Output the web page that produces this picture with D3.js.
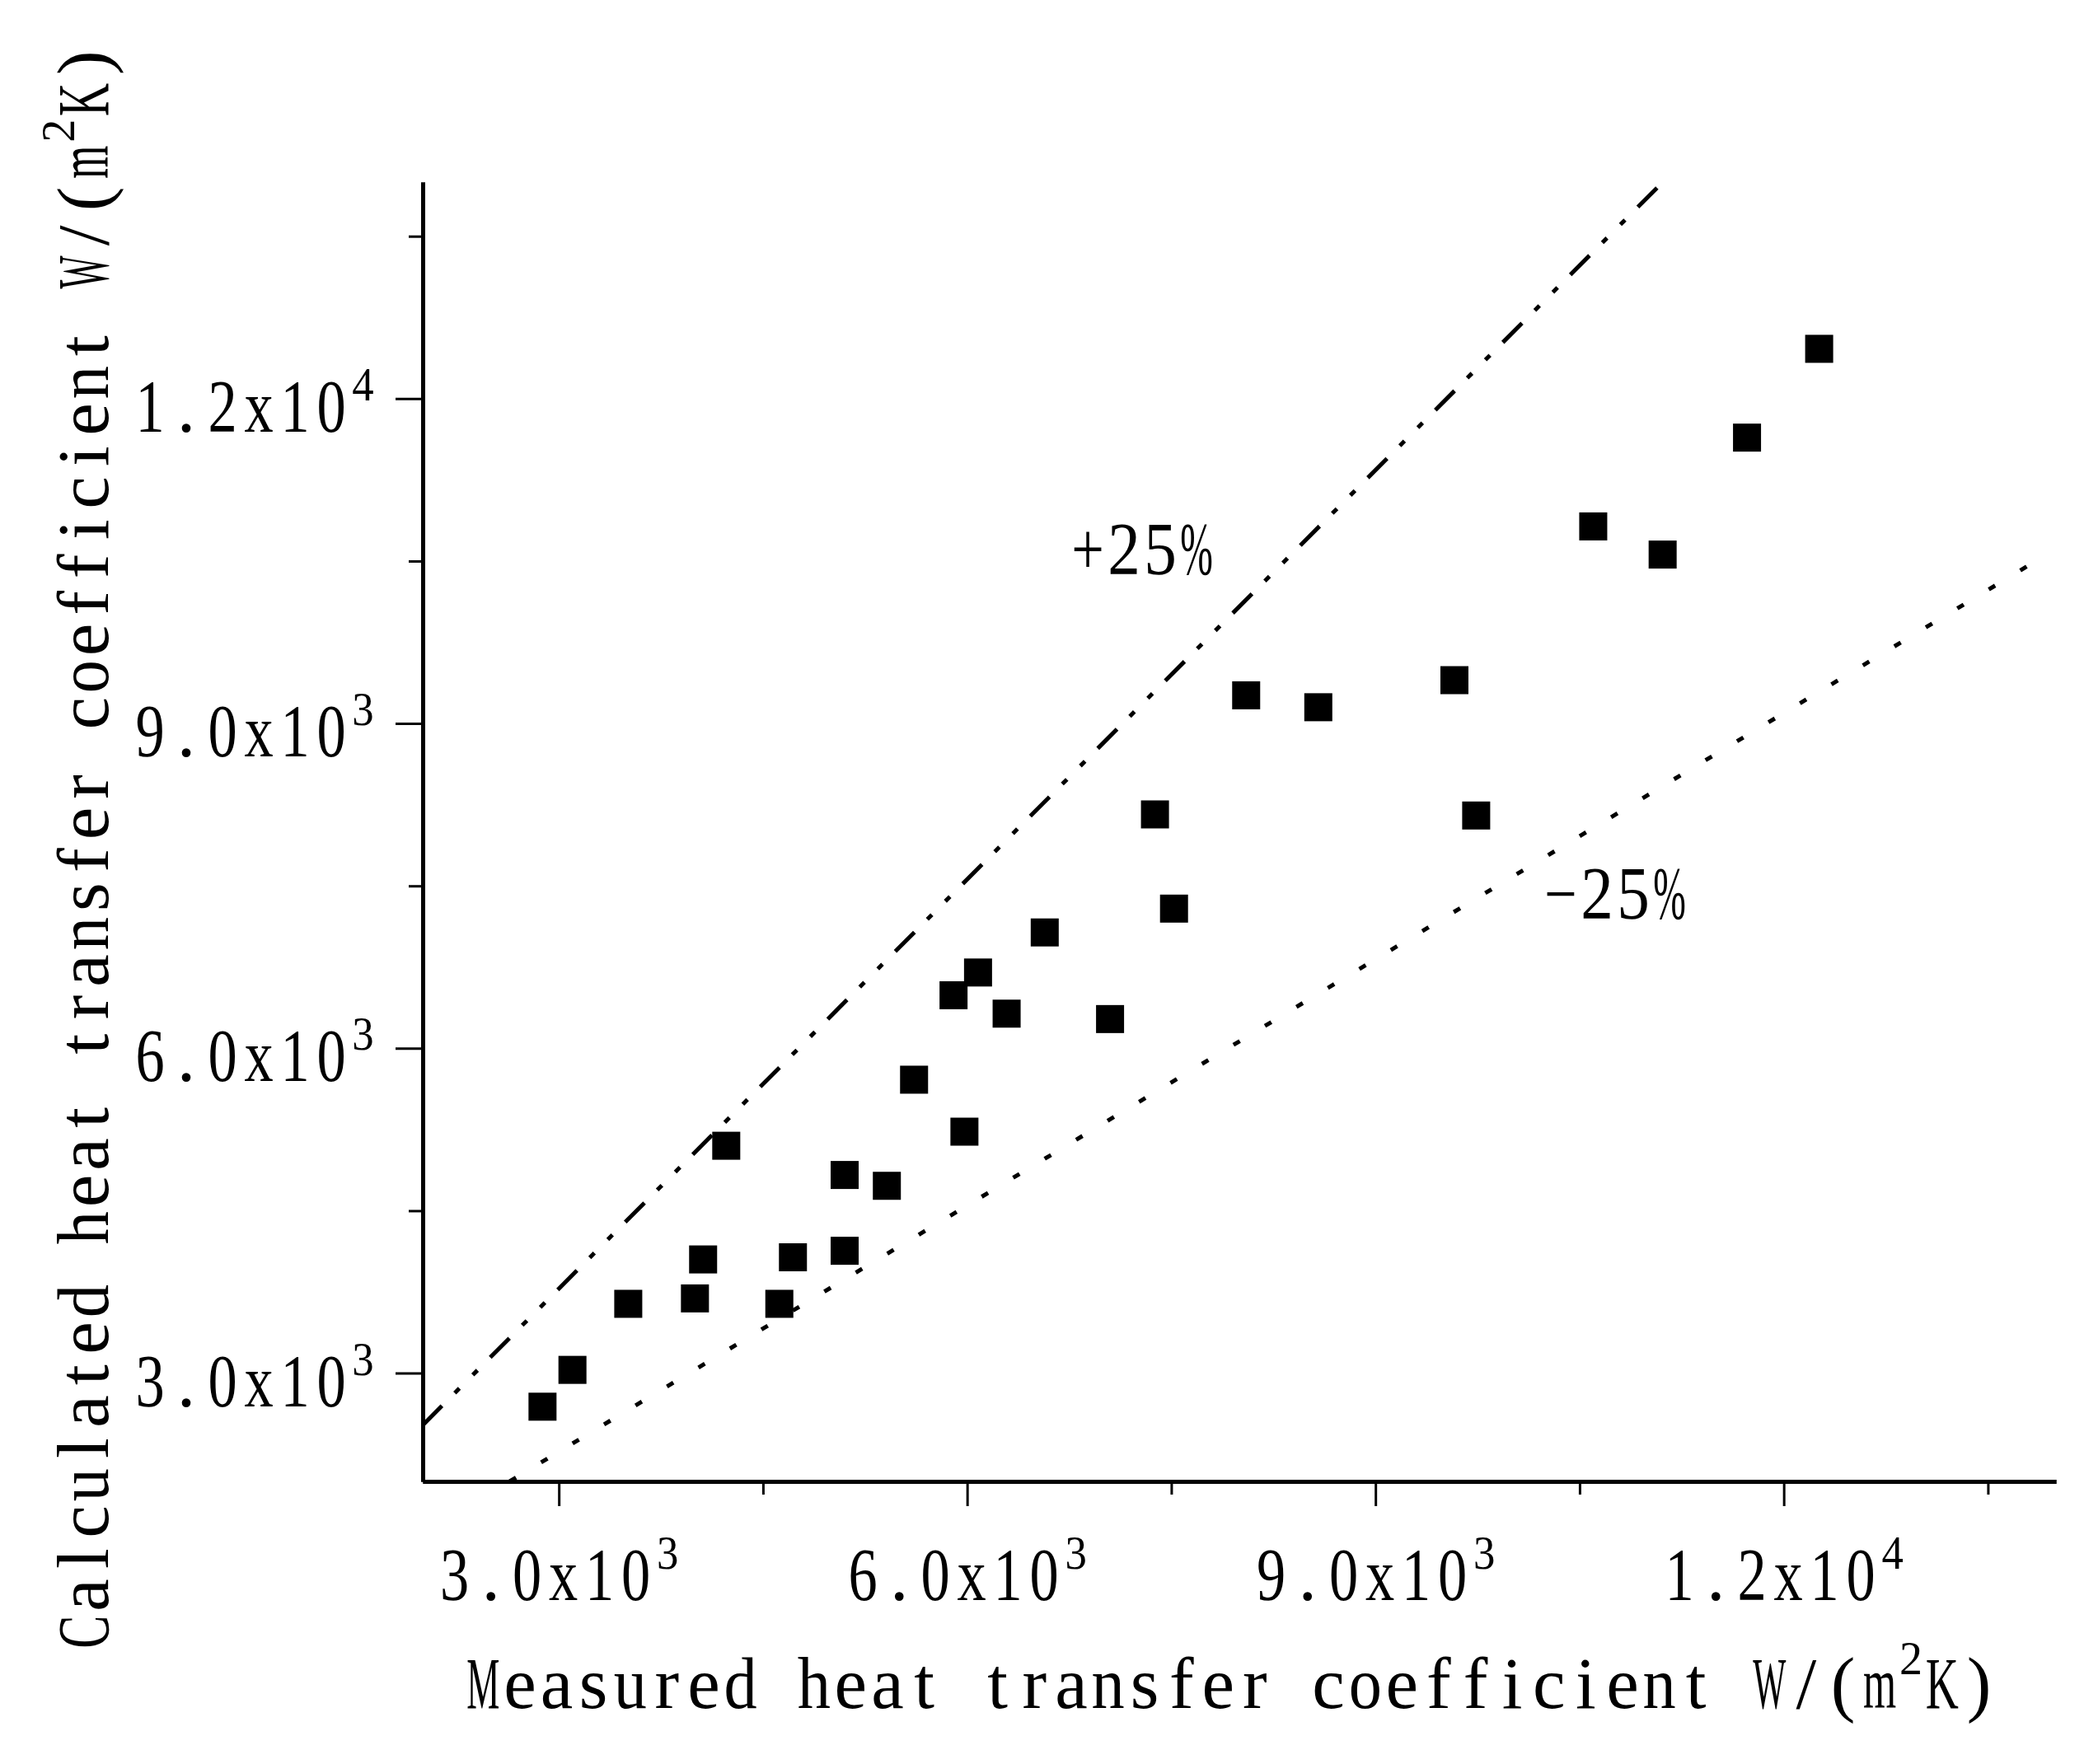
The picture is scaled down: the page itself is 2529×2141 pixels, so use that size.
<!DOCTYPE html>
<html>
<head>
<meta charset="utf-8">
<script src="https://cdn.jsdelivr.net/npm/d3@7"></script>
<style>
  html, body { margin: 0; padding: 0; background: #fff; }
  svg text { white-space: pre; }
</style>
</head>
<body>
<div id="chart"></div>
<script>
// --- Data ---
const measured = [2880, 3100, 3510, 4000, 4060, 4230, 4620, 4720, 5100, 5100,
                  5410, 5610, 5900, 5980, 6080, 6290, 6570, 7050, 7380, 7520,
                  8050, 8580, 9580, 9740, 10600, 11110, 11730, 12260];
const calculated = [2690, 3030, 3640, 3690, 4050, 5100, 3640, 4070, 4130, 4830,
                    4730, 5710, 6490, 5230, 6700, 6320, 7070, 6270, 8160, 7290,
                    9260, 9150, 9400, 8150, 10820, 10560, 11640, 12460];
const majorTicks = [3000, 6000, 9000, 12000];
const minorTicks = [4500, 7500, 10500, 13500];
const tickLabels = ["3.0x10^3", "6.0x10^3", "9.0x10^3", "1.2x10^4"];
// slopes of the two bounding lines as drawn, and where they stop on the right
const bandFactors = [1.26, 0.758];
const bandXEnd = [14000, 13800];
const bandLabels = ["+25%", "\u221225%"];

const W = 2529, H = 2141;
const FONT = "Liberation Serif";

const svg = d3.select("#chart").append("svg")
  .attr("width", W).attr("height", H);
svg.append("rect").attr("width", W).attr("height", H).attr("fill", "#fff");

const x = d3.scaleLinear().domain([2000, 14000]).range([513, 2495]);
const y = d3.scaleLinear().domain([2000, 14000]).range([1798, 221]);

// monospaced text: each glyph sits in its own cell (wide glyphs squeezed to fit),
// "^" makes the next char a superscript
function monoText(parent, o) {
  const toks = [];
  for (let i = 0; i < o.str.length; i++) {
    if (o.str[i] === "^") { toks.push({ ch: o.str[i + 1], sup: true }); i++; }
    else toks.push({ ch: o.str[i], sup: false });
  }
  const cw = t => t.sup ? o.pitch * o.supCell : o.pitch;
  const total = d3.sum(toks, cw);
  let cx = o.anchor === "middle" ? -total / 2 : o.anchor === "end" ? -total : 0;
  const t = parent.append("text")
    .attr("transform", `translate(${o.x},${o.y})${o.rotate ? ` rotate(${o.rotate})` : ""}`)
    .attr("font-family", FONT)
    .attr("font-size", o.size)
    .attr("fill", "#000")
    .attr("text-anchor", "start");
  toks.forEach(tok => {
    const w = cw(tok);
    const s = t.append("tspan")
      .attr("y", tok.sup ? -o.supRise : 0)
      .text(tok.ch);
    if (tok.sup) s.attr("font-size", o.supSize);
    const maxW = w * o.fill;
    let gw = s.node().getComputedTextLength();
    if (tok.ch !== " " && gw > maxW) {
      s.attr("textLength", maxW).attr("lengthAdjust", "spacingAndGlyphs");
      gw = maxW;
    }
    s.attr("x", cx + (w - gw) / 2);
    cx += w;
  });
  return t;
}

// --- Reference lines (+25% / -25%) ---
const [xMin] = x.domain();
const [yMin, yMax] = y.domain();
function bandSegment(f, xe) {
  const x0 = Math.max(xMin, yMin / f), x1 = Math.min(xe, yMax / f);
  return [[x0, f * x0], [x1, f * x1]];
}
const line = d3.line().x(d => x(d[0])).y(d => y(d[1]));
const dashes = ["33 22 8 23 8 22", "9 35.6"];
bandFactors.forEach((f, i) => {
  svg.append("path")
    .attr("d", line(bandSegment(f, bandXEnd[i])))
    .attr("fill", "none")
    .attr("stroke", "#000")
    .attr("stroke-width", 5)
    .attr("stroke-dasharray", dashes[i]);
});

// --- Points ---
const sq = 34;
svg.append("g").selectAll("rect")
  .data(d3.zip(measured, calculated))
  .join("rect")
  .attr("x", d => x(d[0]) - sq / 2)
  .attr("y", d => y(d[1]) - sq / 2)
  .attr("width", sq)
  .attr("height", sq)
  .attr("fill", "#000");

// --- Axes ---
const styleAxis = g => {
  g.select(".domain").attr("stroke", "#000").attr("stroke-width", 5);
  g.selectAll(".tick line").attr("stroke", "#000").attr("stroke-width", 3);
  g.selectAll(".tick text").remove();
};

svg.append("g")
  .attr("transform", `translate(0,${y.range()[0]})`)
  .call(d3.axisBottom(x).tickValues(minorTicks).tickSize(16).tickSizeOuter(0).tickFormat(""))
  .call(styleAxis);
svg.append("g")
  .attr("transform", `translate(0,${y.range()[0]})`)
  .call(d3.axisBottom(x).tickValues(majorTicks).tickSize(30).tickSizeOuter(0).tickFormat(""))
  .call(styleAxis);

svg.append("g")
  .attr("transform", `translate(${x.range()[0]},0)`)
  .call(d3.axisLeft(y).tickValues(minorTicks).tickSize(17).tickSizeOuter(0).tickFormat(""))
  .call(styleAxis);
svg.append("g")
  .attr("transform", `translate(${x.range()[0]},0)`)
  .call(d3.axisLeft(y).tickValues(majorTicks).tickSize(33).tickSizeOuter(0).tickFormat(""))
  .call(styleAxis);

// tick labels
const tickStyle = { pitch: 44, size: 90, supSize: 56, supRise: 38, supCell: 0.75, fill: 0.8 };
majorTicks.forEach((v, i) => {
  monoText(svg, { ...tickStyle, str: tickLabels[i], x: x(v), y: 1942, anchor: "middle" });
  monoText(svg, { ...tickStyle, str: tickLabels[i], x: 457, y: y(v) + 40, anchor: "end" });
});

// band labels
const bandPos = [[1386, 697], [1960, 1115]];
bandLabels.forEach((s, i) => {
  monoText(svg, { ...tickStyle, str: s, x: bandPos[i][0], y: bandPos[i][1], anchor: "middle", fill: 0.9 });
});

// axis titles
const titleStyle = { pitch: 44.6, size: 89, supSize: 56, supRise: 41, supCell: 0.7, fill: 0.9 };
monoText(svg, { ...titleStyle, str: "Measured heat transfer coefficient W/(m^2K)", x: 564, y: 2073, anchor: "start" });
monoText(svg, { ...titleStyle, str: "Calculated heat transfer coefficient W/(m^2K)", x: 131, y: 2003, anchor: "start", rotate: -90 });
</script>
</body>
</html>
